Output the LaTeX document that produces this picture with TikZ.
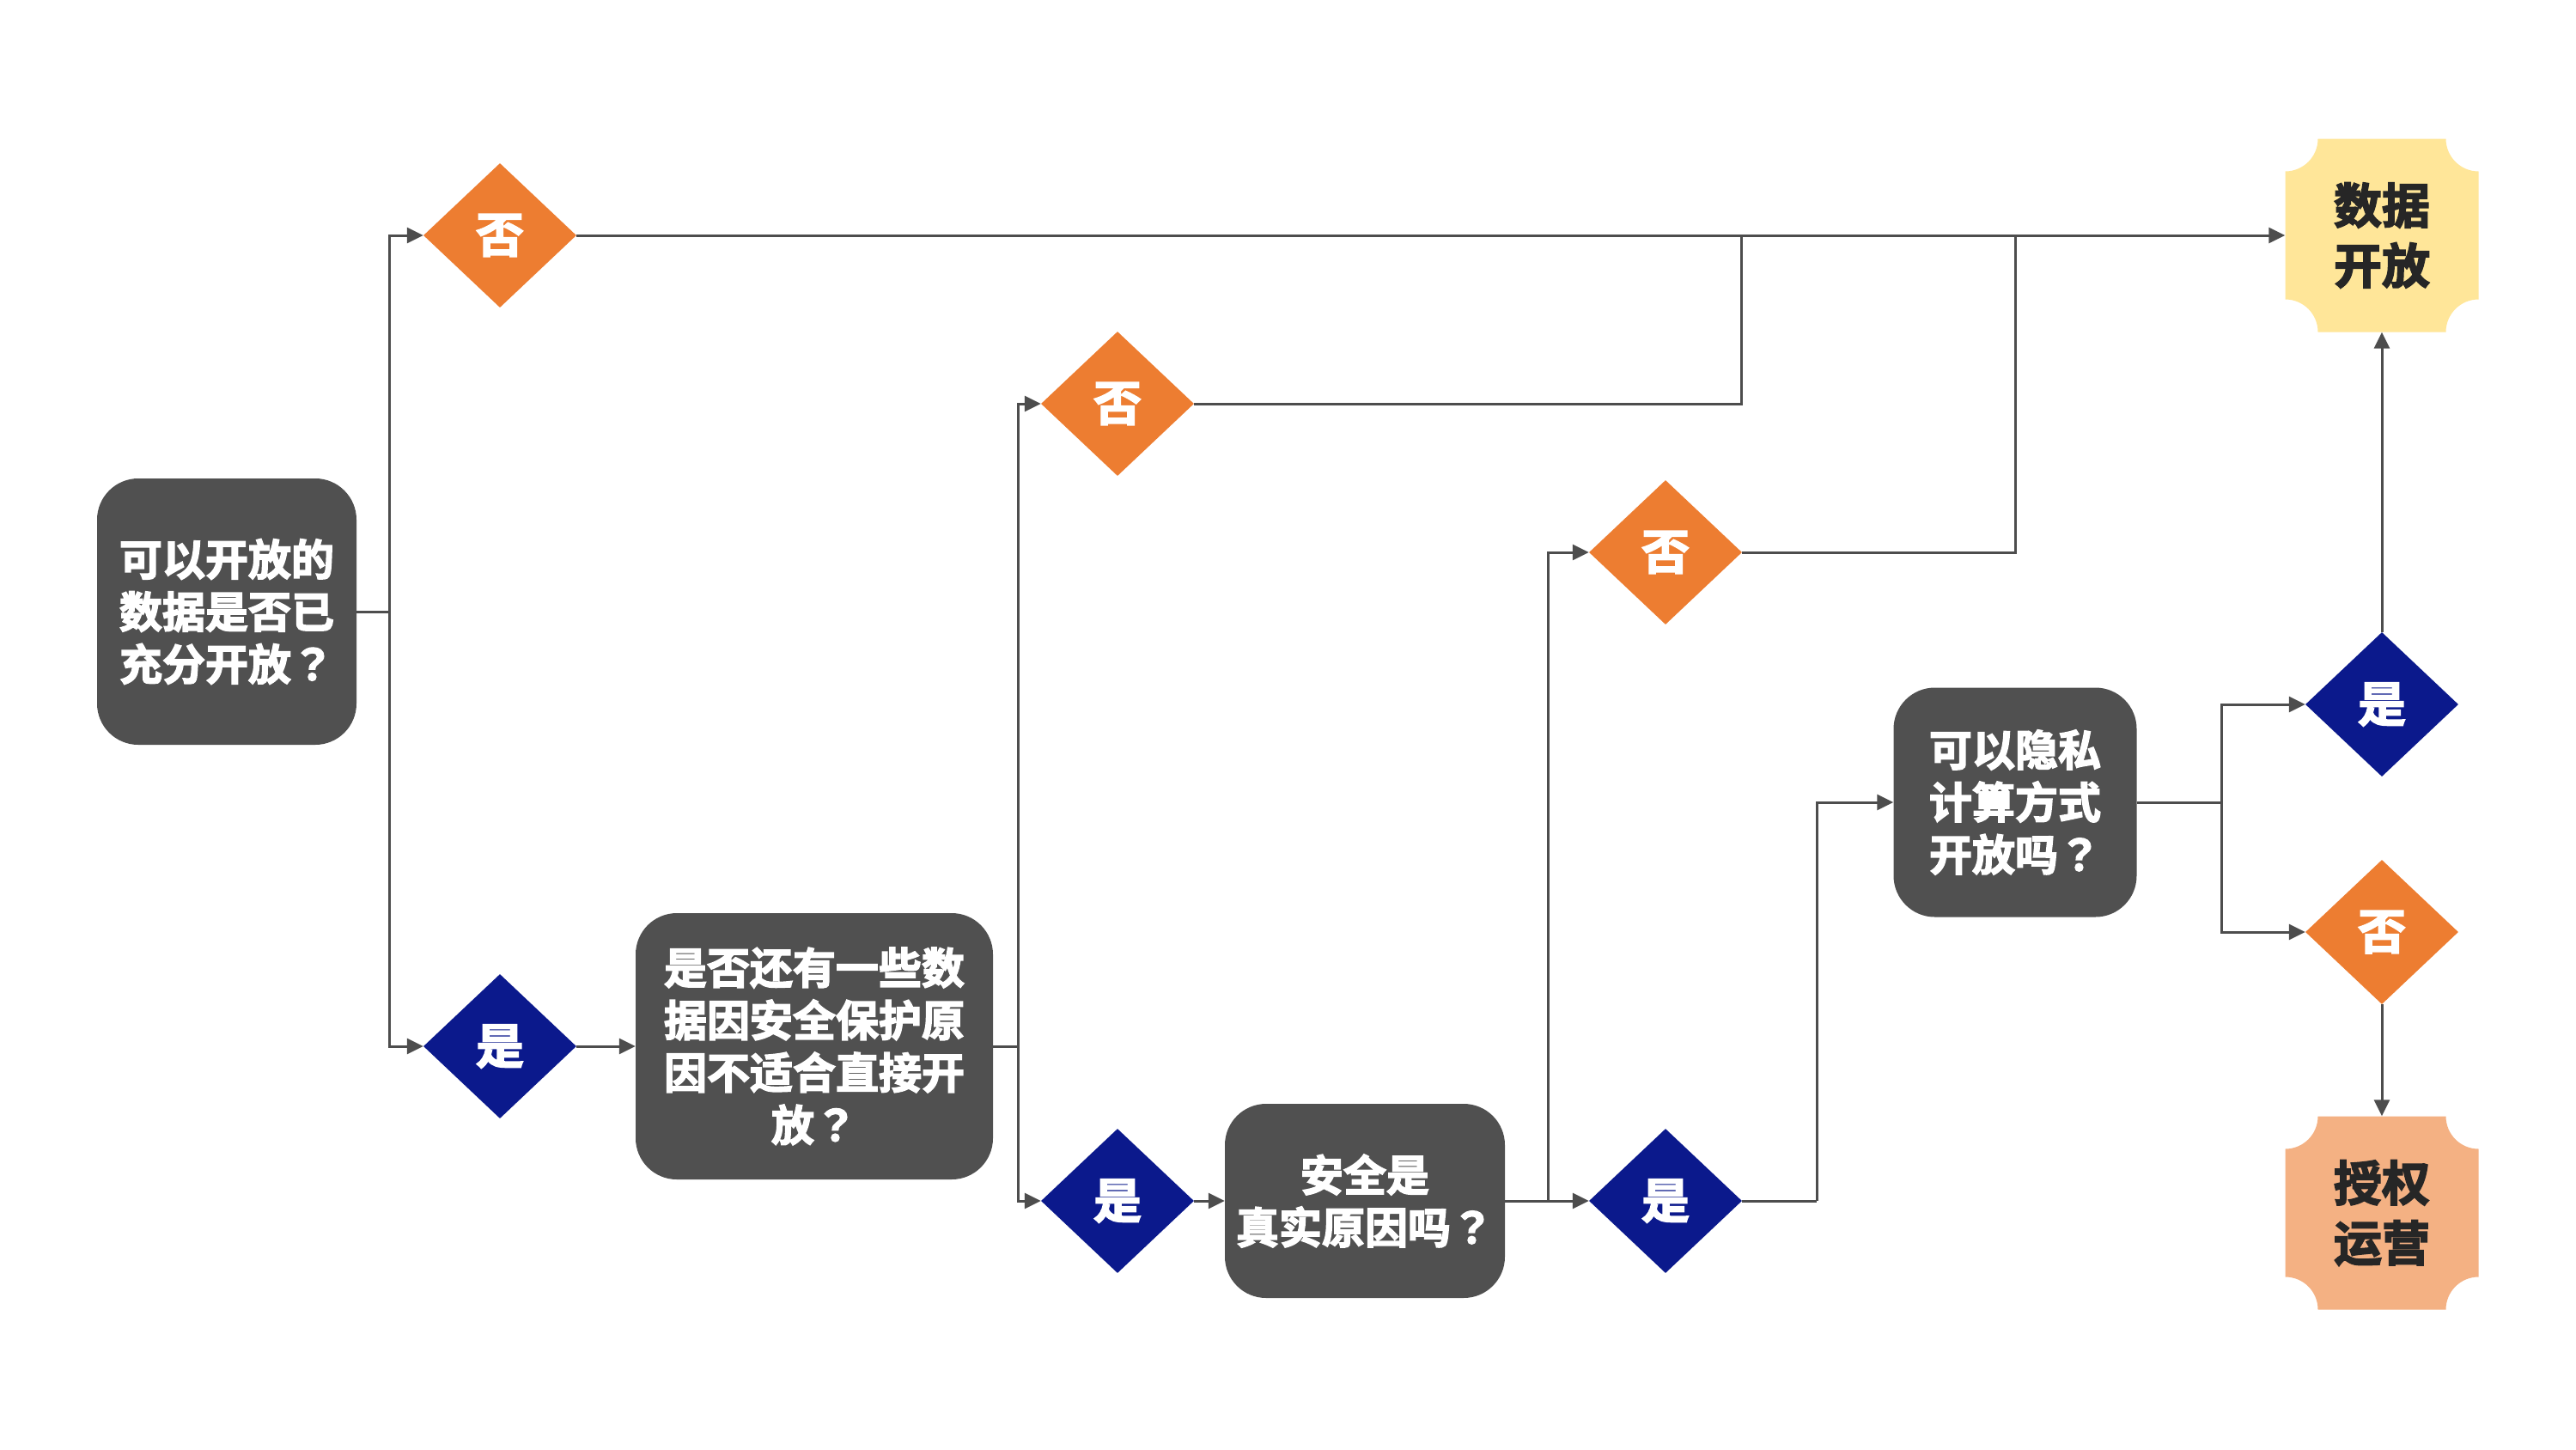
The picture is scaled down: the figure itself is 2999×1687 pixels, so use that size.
\documentclass[tikz,border=0pt]{standalone}
\usepackage{fontspec}
\usetikzlibrary{shapes.geometric,arrows.meta}
\newfontfamily\cjk{Noto Sans CJK SC}[BoldFont={* Bold},BoldFeatures={FakeBold=3}]
\newfontfamily\cjkjp{Noto Sans CJK JP}[BoldFont={* Bold},BoldFeatures={FakeBold=3}]
\newcommand\qmk{{\cjkjp\bfseries ？}}
\definecolor{boxgray}{RGB}{80,80,80}
\definecolor{orng}{RGB}{237,125,49}
\definecolor{navy}{RGB}{11,25,140}
\definecolor{endyellow}{RGB}{255,230,153}
\definecolor{endsalmon}{RGB}{244,177,131}
\definecolor{linegray}{RGB}{77,77,77}
\definecolor{darktext}{RGB}{38,38,38}
\tikzset{
  qbox/.style={rectangle, rounded corners=48pt, fill=boxgray, text=white, align=center,
    inner sep=0pt, font=\cjk\bfseries\fontsize{50}{61}\selectfont},
  nodia/.style={diamond, fill=orng, minimum width=178pt, minimum height=168pt, inner sep=0pt,
    text=white, font=\cjk\bfseries\fontsize{56}{60}\selectfont},
  yesdia/.style={nodia, fill=navy},
  endnode/.style={rectangle, minimum width=225pt, minimum height=225pt, inner sep=0pt,
    align=center, text=darktext, font=\cjk\bfseries\fontsize{56}{70}\selectfont},
  conn/.style={draw=linegray, line width=3pt},
  arr/.style={conn, -{Triangle[length=19pt,width=18pt]}},
}
\begin{document}
\begin{tikzpicture}[x=1pt,y=-1pt]
\useasboundingbox[fill=white] (0,0) rectangle (2999,1687);

% notched end shapes
\begin{scope}[shift={(2773,274)}]
\fill[endyellow] (-74.5,-112.5) -- (74.5,-112.5) arc[start angle=180,end angle=270,radius=38pt]
  -- (112.5,74.5) arc[start angle=90,end angle=180,radius=38pt]
  -- (-74.5,112.5) arc[start angle=0,end angle=90,radius=38pt]
  -- (-112.5,-74.5) arc[start angle=270,end angle=360,radius=38pt] -- cycle;
\end{scope}
\begin{scope}[shift={(2773,1412)}]
\fill[endsalmon] (-74.5,-112.5) -- (74.5,-112.5) arc[start angle=180,end angle=270,radius=38pt]
  -- (112.5,74.5) arc[start angle=90,end angle=180,radius=38pt]
  -- (-74.5,112.5) arc[start angle=0,end angle=90,radius=38pt]
  -- (-112.5,-74.5) arc[start angle=270,end angle=360,radius=38pt] -- cycle;
\end{scope}

% question boxes
\node[qbox, minimum width=302pt, minimum height=310pt] (q1) at (264,712) {可以开放的\\数据是否已\\充分开放\qmk};
\node[qbox, minimum width=416pt, minimum height=310pt] (q2) at (948,1218) {是否还有一些数\\据因安全保护原\\因不适合直接开\\放\qmk};
\node[qbox, minimum width=326pt, minimum height=226pt] (q3) at (1589,1398) {安全是\\真实原因吗\qmk};
\node[qbox, minimum width=283pt, minimum height=267pt] (q4) at (2346,934) {可以隐私\\计算方式\\开放吗\qmk};

% diamonds
\node[nodia]  (n1) at (582,274)   {否};
\node[yesdia] (y1) at (582,1218)  {是};
\node[nodia]  (n2) at (1301,470)  {否};
\node[yesdia] (y2) at (1301,1398) {是};
\node[nodia]  (n3) at (1939,643)  {否};
\node[yesdia] (y3) at (1939,1398) {是};
\node[yesdia] (y4) at (2773,820)  {是};
\node[nodia]  (n4) at (2773,1085) {否};

% end nodes
\node[endnode] (open) at (2773,274)  {数据\\开放};
\node[endnode] (auth) at (2773,1412) {授权\\运营};

% junctions
\coordinate (j1) at (453,712);
\coordinate (j2) at (1185,1218);
\coordinate (j3) at (1802,1398);
\coordinate (j4) at (2115,1398);
\coordinate (j5) at (2586,934);
\coordinate (j6) at (2027,274);
\coordinate (j7) at (2346,274);

% connectors
\draw[conn] (q1.east) -- (j1);
\draw[arr] (j1) |- (n1.west);
\draw[arr] (j1) |- (y1.west);
\draw[arr] (y1.east) -- (q2.west);
\draw[conn] (q2.east) -- (j2);
\draw[arr] (j2) |- (n2.west);
\draw[arr] (j2) |- (y2.west);
\draw[arr] (y2.east) -- (q3.west);
\draw[conn] (q3.east) -- (j3);
\draw[arr] (j3) |- (n3.west);
\draw[arr] (j3) -- (y3.west);
\draw[conn] (y3.east) -- (j4);
\draw[arr] (j4) |- (q4.west);
\draw[conn] (q4.east) -- (j5);
\draw[arr] (j5) |- (y4.west);
\draw[arr] (j5) |- (n4.west);
\draw[arr] (y4.north) -- (open.south);
\draw[arr] (n4.south) -- (auth.north);
\draw[arr] (n1.east) -- (open.west);
\draw[conn] (n2.east) -| (j6);
\draw[conn] (n3.east) -| (j7);
\end{tikzpicture}
\end{document}
